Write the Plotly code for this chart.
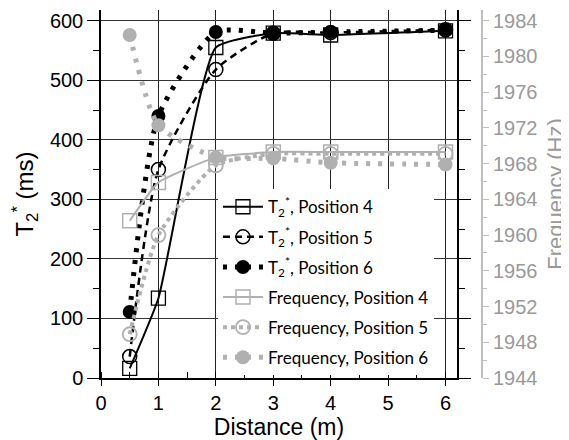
import plotly.graph_objects as go

# ---- data ----
distance = [0.5, 1, 2, 3, 4, 6]
t2_pos4 = [16, 134, 555, 579, 576, 583]
t2_pos5 = [36, 350, 518, 579, 580, 585]
t2_pos6 = [111, 440, 581, 579, 581, 584]
freq_pos4 = [1961.6, 1965.9, 1968.7, 1969.3, 1969.3, 1969.3]
freq_pos5 = [1948.9, 1960.0, 1967.8, 1969.1, 1969.1, 1969.1]
freq_pos6 = [1982.4, 1972.3, 1968.7, 1968.6, 1968.1, 1967.9]

x_ticks = [0, 1, 2, 3, 4, 5, 6]
t2_ticks = [0, 100, 200, 300, 400, 500, 600]
freq_ticks = [1944, 1948, 1952, 1956, 1960, 1964, 1968, 1972, 1976, 1980, 1984]
top_minor_ticks = [0.5, 1.5, 2.5, 3.5, 4.5, 5.5]

names = [
    "T<sub>2</sub><sup>*</sup>, Position 4",
    "T<sub>2</sub><sup>*</sup>, Position 5",
    "T<sub>2</sub><sup>*</sup>, Position 6",
    "Frequency, Position 4",
    "Frequency, Position 5",
    "Frequency, Position 6",
]

BLACK = "#000000"
GRAY = "#b0b0b0"
AX_FONT = "Liberation Sans, Arial, sans-serif"

fig = go.Figure()

fig.add_trace(go.Scatter(
    x=distance, y=t2_pos4, name=names[0], legendgroup="a", mode="lines+markers",
    line=dict(color=BLACK, width=2, shape="spline", smoothing=0.45),
    marker=dict(symbol="square-open", size=14, color=BLACK, line=dict(width=1.3)),
))
fig.add_trace(go.Scatter(
    x=distance, y=t2_pos5, name=names[1], legendgroup="b", mode="lines+markers",
    line=dict(color=BLACK, width=2.5, dash="7px,5px", shape="spline", smoothing=0.6),
    marker=dict(symbol="circle-open", size=14, color=BLACK, line=dict(width=1.5)),
))
fig.add_trace(go.Scatter(
    x=distance, y=t2_pos6, name=names[2], legendgroup="c", mode="lines+markers",
    line=dict(color=BLACK, width=5, dash="4px,8px", shape="spline", smoothing=0.6),
    marker=dict(symbol="circle", size=14, color=BLACK),
))
fig.add_trace(go.Scatter(
    x=distance, y=freq_pos4, name=names[3], legendgroup="d", mode="lines+markers", yaxis="y2",
    line=dict(color=GRAY, width=2, shape="spline", smoothing=0.4),
    marker=dict(symbol="square-open", size=14, color=GRAY, line=dict(width=1.5)),
))
fig.add_trace(go.Scatter(
    x=distance, y=freq_pos5, name=names[4], legendgroup="e", mode="lines+markers", yaxis="y2",
    line=dict(color=GRAY, width=4, dash="dot", shape="spline", smoothing=0.6),
    marker=dict(symbol="circle-open", size=14, color=GRAY, line=dict(width=1.8)),
))
fig.add_trace(go.Scatter(
    x=distance, y=freq_pos6, name=names[5], legendgroup="f", mode="lines+markers", yaxis="y2",
    line=dict(color=GRAY, width=5, dash="4px,8px", shape="spline", smoothing=0.6),
    marker=dict(symbol="circle", size=14, color=GRAY),
))

# the page body adds an 8px offset, so the figure is 8px smaller than the window
fig.update_layout(
    width=561, height=432,
    margin=dict(l=93, r=87, t=2, b=62, autoexpand=False),
    paper_bgcolor="white", plot_bgcolor="white",
    font=dict(family=AX_FONT, color="black"),
    showlegend=True,
    legend=dict(
        x=0.307, y=0.513, xanchor="left", yanchor="top",
        bgcolor="white", borderwidth=0,
        font=dict(family="Lato, Carlito, sans-serif", size=17, color="black"),
        itemwidth=40, traceorder="grouped", tracegroupgap=5,
    ),
    xaxis=dict(
        domain=[0, 0.9344], range=[0, 6.2], anchor="y", automargin=False,
        tickvals=x_ticks, ticks="outside", ticklen=6, tickcolor=BLACK,
        showline=True, linecolor=BLACK, linewidth=1.5,
        showgrid=True, gridcolor="#222222", gridwidth=1,
        zeroline=False,
        minor=dict(dtick=0.5, tick0=0, ticks="inside", ticklen=6, tickcolor=BLACK, showgrid=False),
        tickfont=dict(size=20, family=AX_FONT, color=BLACK),
        title=dict(text="Distance (m)", font=dict(size=23, family=AX_FONT, color=BLACK), standoff=0),
    ),
    xaxis2=dict(
        overlaying="x", side="top", anchor="free", position=0.971, automargin=False,
        range=[0, 6.2], tickvals=top_minor_ticks, ticks="outside", ticklen=5,
        tickcolor=BLACK, showticklabels=False, showgrid=False, showline=False, zeroline=False,
    ),
    yaxis=dict(
        range=[0, 618], tickvals=t2_ticks, ticks="outside", ticklen=12, tickcolor=BLACK,
        automargin=False,
        showline=True, linecolor=BLACK, linewidth=1.5, mirror="ticks",
        showgrid=True, gridcolor="#333333", gridwidth=1,
        zeroline=False,
        minor=dict(dtick=50, tick0=0, ticks="outside", ticklen=6, tickcolor=BLACK, showgrid=False),
        tickfont=dict(size=20, family=AX_FONT, color=BLACK),
        title=dict(text="T<sub>2</sub><sup>*</sup> (ms)", font=dict(size=24, family=AX_FONT, color=BLACK), standoff=10),
    ),
    yaxis2=dict(
        overlaying="y", side="right", anchor="free", position=1.0, automargin=False,
        range=[1944, 1985.2], tickvals=freq_ticks, ticks="outside", ticklen=6,
        tickcolor="#bfbfbf", showline=True, linecolor="#bfbfbf", linewidth=2,
        showgrid=False, zeroline=False,
        minor=dict(dtick=2, tick0=1944, ticks="outside", ticklen=4, tickcolor="#bfbfbf", showgrid=False),
        tickfont=dict(size=20, family=AX_FONT, color="#999999"),
        title=dict(text="Frequency (Hz)", font=dict(size=22, family=AX_FONT, color="#999999"), standoff=10),
    ),
)

fig.write_html("out.html")
